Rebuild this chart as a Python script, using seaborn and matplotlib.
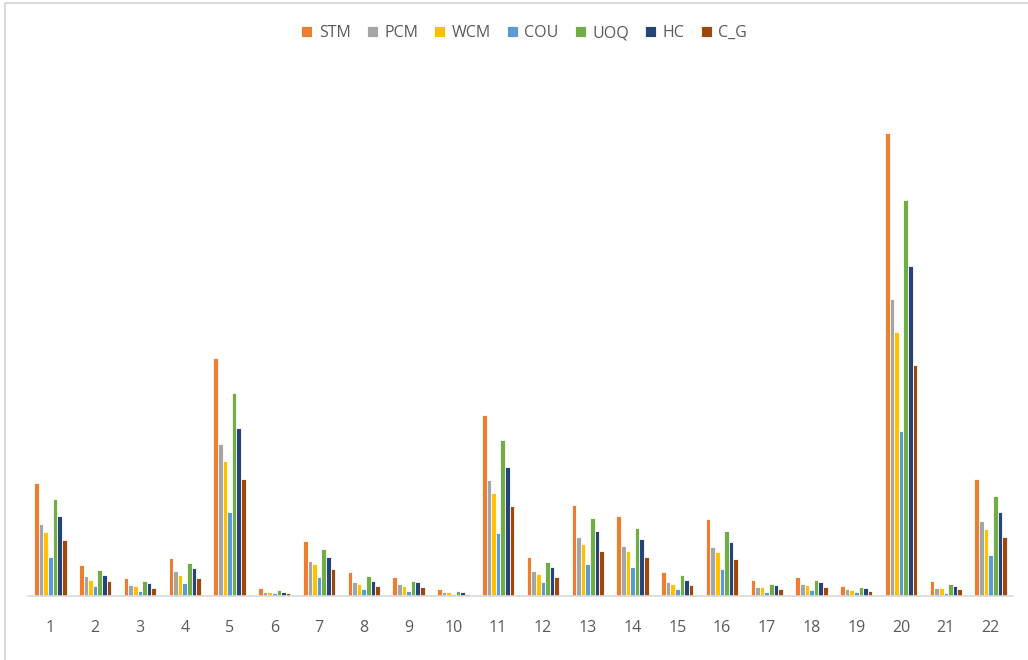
import numpy as np
import pandas as pd
import matplotlib
matplotlib.use("Agg")
import matplotlib.pyplot as plt
import seaborn as sns

# categories and series
groups = [str(i) for i in range(1, 23)]
series = ["STM", "PCM", "WCM", "COU", "UOQ", "HC", "C_G"]
colors = ["#ed7d31", "#a5a5a5", "#ffc000", "#5b9bd5", "#70ad47", "#264478", "#9e480e"]

stm = [113, 31, 18, 38, 238, 8, 55, 24, 19, 7, 181, 39, 91, 80, 24, 77, 16, 19, 10, 463, 15, 117]
pcm = [72, 20, 11, 25, 152, 4, 35, 14, 12, 4, 116, 25, 59, 50, 14, 49, 9, 12, 7, 297, 8, 75]
wcm = [64, 16, 10, 21, 135, 4, 32, 12, 10, 4, 103, 22, 52, 45, 12, 44, 9, 11, 6, 264, 8, 67]
cou = [39, 10, 5, 13, 84, 3, 19, 7, 5, 2, 63, 14, 32, 29, 7, 27, 4, 6, 4, 165, 3, 41]
uoq = [97, 26, 15, 33, 203, 6, 47, 20, 15, 5, 156, 34, 78, 68, 21, 65, 12, 16, 9, 396, 12, 100]
hc = [80, 21, 13, 28, 168, 4, 39, 15, 14, 4, 129, 29, 65, 57, 16, 54, 11, 14, 8, 330, 10, 84]
c_g = [56, 15, 8, 18, 117, 3, 27, 10, 9, 2, 90, 19, 45, 39, 11, 37, 7, 9, 5, 231, 7, 59]

# long format for seaborn
df = pd.DataFrame({"group": groups, "STM": stm, "PCM": pcm, "WCM": wcm, "COU": cou,
                   "UOQ": uoq, "HC": hc, "C_G": c_g})
long_df = df.melt(id_vars="group", var_name="series", value_name="value")

sns.set_style("white")
plt.rcParams["font.family"] = ["Open Sans", "DejaVu Sans"]

fig = plt.figure(figsize=(10.28, 6.6), dpi=100)
ax = fig.add_axes([28 / 1028, 64 / 660, 985 / 1028, 500 / 660])

sns.barplot(data=long_df, x="group", y="value", hue="series", hue_order=series,
            palette=colors, saturation=1, width=0.72, edgecolor="white", linewidth=0.6,
            ax=ax, legend=True)

ax.set_ylim(0, 500)
ax.set_xlim(-0.5, len(groups) - 0.5)
ax.set_xlabel("")
ax.set_ylabel("")
ax.set_yticks([])
for side in ["top", "right", "left"]:
    ax.spines[side].set_visible(False)
ax.spines["bottom"].set_color("#d9d9d9")
ax.spines["bottom"].set_linewidth(1.2)
ax.tick_params(axis="x", length=0, pad=17, labelsize=11.5, labelcolor="#595959")

# legend on top
handles, labels = ax.get_legend_handles_labels()
ax.get_legend().remove()
fig.legend(handles, labels, loc="center", bbox_to_anchor=(524 / 1028, 1 - 33 / 660),
           ncol=7, frameon=False, fontsize=11.5, handlelength=0.7, handleheight=0.7,
           handletextpad=0.4, columnspacing=1.0, labelcolor="#595959")

# chart area frame (partial, light grey)
fig.add_artist(plt.Line2D([5 / 1028, 5 / 1028], [0, 1 - 3 / 660], color="#d9d9d9", lw=1.5))
fig.add_artist(plt.Line2D([5 / 1028, 1], [1 - 3 / 660, 1 - 3 / 660], color="#d9d9d9", lw=1.5))

fig.savefig("out.png", dpi=100)
